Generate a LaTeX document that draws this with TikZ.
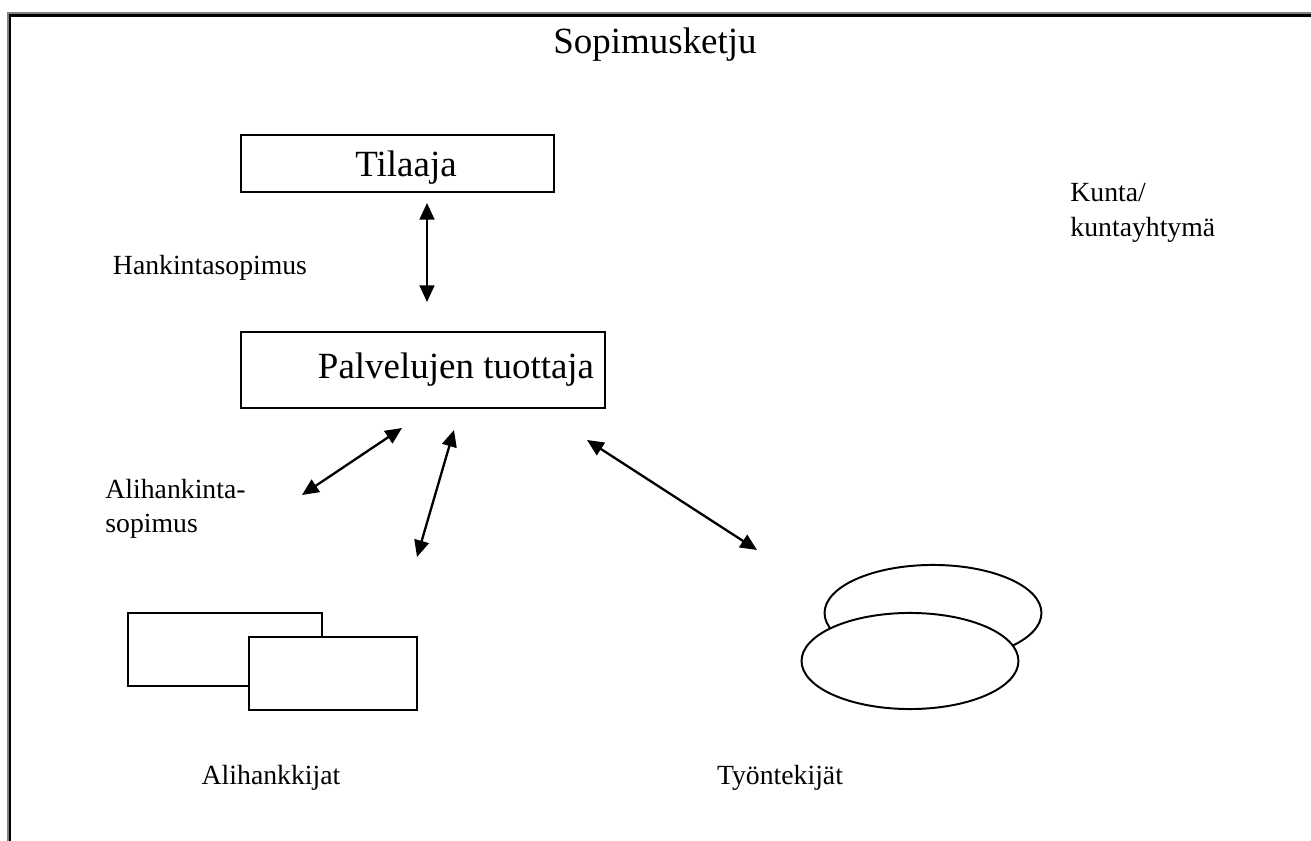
\documentclass[tikz,border=0pt]{standalone}
\usepackage{fontspec}
\setmainfont{Liberation Serif}
\usetikzlibrary{arrows.meta,shapes.geometric}
\begin{document}
\begin{tikzpicture}[x=0.4329pt,y=-0.4329pt,
  box/.style={draw,line width=0.85pt,inner sep=0pt,rectangle},
  oval/.style={draw,line width=0.85pt,inner sep=0pt,ellipse,minimum width=93.9pt,minimum height=41.6pt},
  big/.style={font=\fontsize{16}{19}\selectfont},
  small/.style={font=\fontsize{12}{15}\selectfont},
  link/.style={line width=1pt,{Triangle[length=7.2pt,width=6.4pt]}-{Triangle[length=7.2pt,width=6.4pt]}}]
\useasboundingbox (0,0) rectangle (1311,841);
% frame
\draw[gray,line width=0.45pt] (8,841) -- (8,13) -- (1311,13);
\draw[black,line width=1.1pt] (10,841) -- (10,15.5) -- (1311,15.5);
% title
\node[big] (title) at (655,45) {Sopimusketju};
% boxes
\node[box,minimum width=135.5pt,minimum height=24.7pt,
  label={[big,xshift=3.7pt,yshift=-2pt]center:Tilaaja}] (tilaaja) at (397.5,163.5) {};
\node[box,minimum width=157.6pt,minimum height=32.9pt,
  label={[big,xshift=14.3pt]center:Palvelujen tuottaja}] (tuottaja) at (423,370) {};
% subcontractor boxes
\node[box,minimum width=84pt,minimum height=31.6pt] (ali1) at (225,649.5) {};
\node[box,fill=white,minimum width=72.7pt,minimum height=31.6pt] (ali2) at (333,673.5) {};
% employees ellipses
\node[oval] (tyo1) at (933,613) {};
\node[oval,fill=white] (tyo2) at (910,661) {};
% labels
\node[small] (hank) at (210,268) {Hankintasopimus};
\node[small,anchor=west,align=left,inner sep=0pt] (alisop) at (105,509) {Alihankinta-\\sopimus};
\node[small,anchor=west,align=left,inner sep=0pt] (kunta) at (1070,213) {Kunta/\\kuntayhtymä};
\node[small] (alihankkijat) at (271,778) {Alihankkijat};
\node[small] (tyontekijat) at (780,778) {Työntekijät};
% arrow end points
\coordinate (a1s) at (427,203);
\coordinate (a1e) at (427,302);
\coordinate (a2s) at (402,428);
\coordinate (a2e) at (302,495);
\coordinate (a3s) at (454,430);
\coordinate (a3e) at (417,557);
\coordinate (a4s) at (587,440);
\coordinate (a4e) at (757,550);
\draw[link] (a1s) -- (a1e);
\draw[link] (a2s) -- (a2e);
\draw[link] (a3s) -- (a3e);
\draw[link] (a4s) -- (a4e);
\end{tikzpicture}
\end{document}
